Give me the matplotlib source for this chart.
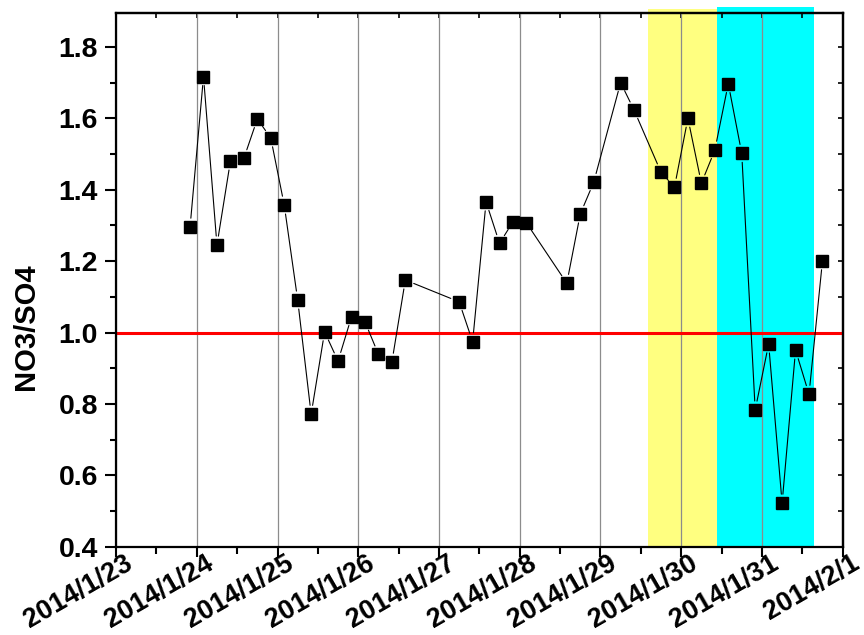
import pandas as pd
import matplotlib
matplotlib.use('Agg')
import matplotlib.pyplot as plt
import matplotlib.dates as mdates
import matplotlib.transforms as mtransforms
from matplotlib.ticker import MultipleLocator, AutoMinorLocator

# data (4-hourly samples)
times = ['2014-01-23 22:00', '2014-01-24 02:00', '2014-01-24 06:00', '2014-01-24 10:00',
         '2014-01-24 14:00', '2014-01-24 18:00', '2014-01-24 22:00', '2014-01-25 02:00',
         '2014-01-25 06:00', '2014-01-25 10:00', '2014-01-25 14:00', '2014-01-25 18:00',
         '2014-01-25 22:00', '2014-01-26 02:00', '2014-01-26 06:00', '2014-01-26 10:00',
         '2014-01-26 14:00', '2014-01-27 06:00', '2014-01-27 10:00', '2014-01-27 14:00',
         '2014-01-27 18:00', '2014-01-27 22:00', '2014-01-28 02:00', '2014-01-28 14:00',
         '2014-01-28 18:00', '2014-01-28 22:00', '2014-01-29 06:00', '2014-01-29 10:00',
         '2014-01-29 18:00', '2014-01-29 22:00', '2014-01-30 02:00', '2014-01-30 06:00',
         '2014-01-30 10:00', '2014-01-30 14:00', '2014-01-30 18:00', '2014-01-30 22:00',
         '2014-01-31 02:00', '2014-01-31 06:00', '2014-01-31 10:00', '2014-01-31 14:00',
         '2014-01-31 18:00']
ratio = [1.295, 1.717, 1.245, 1.480, 1.488, 1.598, 1.545, 1.357, 1.091, 0.771,
         1.002, 0.920, 1.044, 1.030, 0.939, 0.917, 1.147, 1.086, 0.974, 1.366,
         1.250, 1.310, 1.307, 1.138, 1.332, 1.421, 1.700, 1.623, 1.449, 1.407,
         1.600, 1.418, 1.511, 1.697, 1.502, 0.783, 0.968, 0.522, 0.951, 0.827,
         1.201]

day_ticks = ['2014-01-23', '2014-01-24', '2014-01-25', '2014-01-26', '2014-01-27',
             '2014-01-28', '2014-01-29', '2014-01-30', '2014-01-31', '2014-02-01']
day_labels = ['2014/1/23', '2014/1/24', '2014/1/25', '2014/1/26', '2014/1/27',
              '2014/1/28', '2014/1/29', '2014/1/30', '2014/1/31', '2014/2/1']

yellow_span = ['2014-01-29 14:00', '2014-01-30 10:45']
cyan_span = ['2014-01-30 10:45', '2014-01-31 15:30']
ref_level = 1.0

plt.rcParams['font.family'] = ['Liberation Sans', 'DejaVu Sans']
plt.rcParams['font.weight'] = 'bold'

fig = plt.figure(figsize=(8.64, 6.35), dpi=100)
ax = fig.add_axes([0.1343, 0.139, 0.841, 0.840])

t = mdates.date2num(pd.to_datetime(times))
ticks = mdates.date2num(pd.to_datetime(day_ticks))

# shaded periods
ys = mdates.date2num(pd.to_datetime(yellow_span))
cs = mdates.date2num(pd.to_datetime(cyan_span))
ax.axvspan(ys[0], ys[1], ymin=0, ymax=1.0075, color='#ffff80', lw=0, zorder=0, clip_on=False)
ax.axvspan(cs[0], cs[1], ymin=0, ymax=1.011, color='#00ffff', lw=0, zorder=0, clip_on=False)

# reference line
ax.axhline(ref_level, color='#ff0000', lw=2.2, zorder=2)

# connecting lines with small gaps at the markers
for i in range(len(t) - 1):
    ax.annotate('', xy=(t[i + 1], ratio[i + 1]), xytext=(t[i], ratio[i]),
                arrowprops=dict(arrowstyle='-', color='black', lw=0.8,
                                shrinkA=6.5, shrinkB=6.5), zorder=3)
ax.plot(t, ratio, linestyle='none', marker='s', markersize=8.8,
        color='black', zorder=4)

ax.set_xlim(ticks[0], ticks[-1])
ax.set_ylim(0.4, 1.894)

ax.set_xticks(ticks)
ax.set_xticklabels(day_labels)
ax.xaxis.set_minor_locator(AutoMinorLocator(2))
ax.yaxis.set_major_locator(MultipleLocator(0.2))
ax.yaxis.set_minor_locator(MultipleLocator(0.1))
ax.yaxis.set_major_formatter(matplotlib.ticker.FormatStrFormatter('%.1f'))

ax.grid(axis='x', which='major', color='#8c8c8c', lw=0.9)
ax.set_axisbelow(True)

for s in ax.spines.values():
    s.set_linewidth(1.6)

ax.tick_params(axis='y', which='major', direction='out', length=8, width=1.5,
               pad=5, labelsize=20.5)
ax.tick_params(axis='y', which='minor', direction='out', length=4.5, width=1.5)
ax.tick_params(axis='x', which='major', direction='out', length=7.5, width=1.5,
               pad=0, labelsize=19.5)
ax.tick_params(axis='x', which='minor', direction='out', length=5, width=1.5)

offset = mtransforms.ScaledTranslation(14.5 / 100, -4.6 / 100, fig.dpi_scale_trans)
for lab in ax.get_xticklabels():
    lab.set_rotation(30)
    lab.set_ha('right')
    lab.set_va('center')
    lab.set_rotation_mode('anchor')
    lab.set_transform(lab.get_transform() + offset)

# inward ticks on top and right
top = ax.secondary_xaxis('top')
top.set_xticks(ticks)
top.xaxis.set_minor_locator(AutoMinorLocator(2))
top.tick_params(which='both', direction='in', length=3.5, width=1.2, labeltop=False)
right = ax.secondary_yaxis('right')
right.yaxis.set_major_locator(MultipleLocator(0.2))
right.yaxis.set_minor_locator(MultipleLocator(0.1))
right.tick_params(which='both', direction='in', length=3.5, width=1.2, labelright=False)
for sec in (top, right):
    for s in sec.spines.values():
        s.set_linewidth(1.6)

fig.text(26 / 864, 1 - 327 / 635, 'NO3/SO4', rotation=90, ha='center', va='center',
         fontsize=21, fontweight='bold')

fig.savefig('out.png', dpi=100)
